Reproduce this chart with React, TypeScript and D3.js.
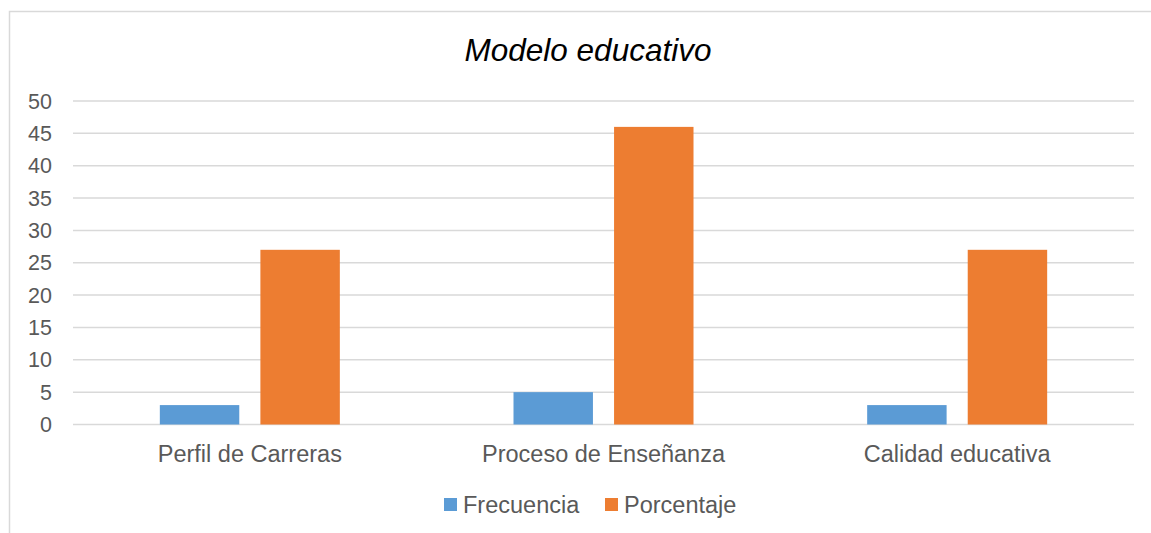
import { useEffect, useRef } from "react";
import * as d3 from "d3";

const categories = ["Perfil de Carreras", "Proceso de Enseñanza", "Calidad educativa"];
const seriesNames = ["Frecuencia", "Porcentaje"];
const frecuencia = [3, 5, 3];
const porcentaje = [27, 46, 27];
const yTicks = [0, 5, 10, 15, 20, 25, 30, 35, 40, 45, 50];

const colors = ["#5B9BD5", "#ED7D31"];
const FONT = "'Liberation Sans', Arial, sans-serif";

export default function App() {
  const svgRef = useRef<SVGSVGElement>(null);

  useEffect(() => {
    if (!svgRef.current) return;
    const width = 1151;
    const height = 533;
    const margin = { top: 101, right: 17, bottom: 108.5, left: 73 };

    const svg = d3.select(svgRef.current);
    svg.selectAll("*").remove();
    svg.attr("width", width).attr("height", height);

    // chart frame (right and bottom edges fall outside the picture)
    svg
      .append("rect")
      .attr("x", 9.5)
      .attr("y", 11.5)
      .attr("width", width + 10)
      .attr("height", height + 10)
      .attr("fill", "#fff")
      .attr("stroke", "#D9D9D9")
      .attr("stroke-width", 1.5);

    const x0 = d3
      .scaleBand()
      .domain(categories)
      .range([margin.left, width - margin.right])
      .paddingInner(0)
      .paddingOuter(0);

    const groupW = 180;
    const x1 = d3
      .scaleBand()
      .domain(seriesNames)
      .range([0, groupW])
      .paddingInner(0.21)
      .paddingOuter(0);

    const y = d3
      .scaleLinear()
      .domain([0, 50])
      .range([height - margin.bottom, margin.top]);

    // gridlines
    svg
      .append("g")
      .selectAll("line")
      .data(yTicks)
      .join("line")
      .attr("x1", margin.left)
      .attr("x2", width - margin.right)
      .attr("y1", (d) => y(d))
      .attr("y2", (d) => y(d))
      .attr("stroke", "#D9D9D9")
      .attr("stroke-width", 1.5);

    // y labels
    svg
      .append("g")
      .selectAll("text")
      .data(yTicks)
      .join("text")
      .attr("x", 52)
      .attr("y", (d) => y(d))
      .attr("dy", "0.35em")
      .attr("text-anchor", "end")
      .attr("font-family", FONT)
      .attr("font-size", 21.5)
      .attr("fill", "#595959")
      .text((d) => d);

    const rows = categories.map((c, i) => ({ cat: c, values: [frecuencia[i], porcentaje[i]] }));

    // bars
    svg
      .append("g")
      .selectAll("g")
      .data(rows)
      .join("g")
      .attr("transform", (d) => `translate(${x0(d.cat)! + (x0.bandwidth() - groupW) / 2},0)`)
      .selectAll("rect")
      .data((d) => d.values.map((v, j) => ({ key: seriesNames[j], v, j })))
      .join("rect")
      .attr("x", (d) => x1(d.key)!)
      .attr("width", x1.bandwidth())
      .attr("y", (d) => y(d.v))
      .attr("height", (d) => y(0) - y(d.v))
      .attr("fill", (d) => colors[d.j]);

    // category labels
    svg
      .append("g")
      .selectAll("text")
      .data(categories)
      .join("text")
      .attr("x", (d) => x0(d)! + x0.bandwidth() / 2)
      .attr("y", 462)
      .attr("text-anchor", "middle")
      .attr("font-family", FONT)
      .attr("font-size", 23.5)
      .attr("fill", "#595959")
      .text((d) => d);

    // title
    svg
      .append("text")
      .attr("x", 588)
      .attr("y", 61)
      .attr("text-anchor", "middle")
      .attr("font-family", FONT)
      .attr("font-size", 31.5)
      .attr("font-style", "italic")
      .attr("fill", "#000")
      .text("Modelo educativo");

    // legend
    const legendX = [444, 605];
    const legend = svg
      .append("g")
      .selectAll("g")
      .data(seriesNames)
      .join("g")
      .attr("transform", (_, i) => `translate(${legendX[i]},498)`);
    legend
      .append("rect")
      .attr("width", 13)
      .attr("height", 13)
      .attr("fill", (_, i) => colors[i]);
    legend
      .append("text")
      .attr("x", 19)
      .attr("y", 15)
      .attr("font-family", FONT)
      .attr("font-size", 23.5)
      .attr("fill", "#595959")
      .text((d) => d);
  }, []);

  return (
    <div style={{ position: "absolute", left: 0, top: 0 }}>
      <svg ref={svgRef} style={{ display: "block" }} />
    </div>
  );
}
